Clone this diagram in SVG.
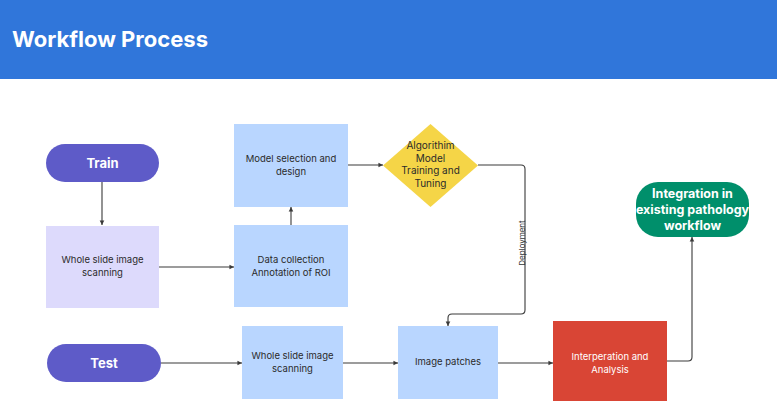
<svg xmlns="http://www.w3.org/2000/svg" width="777" height="405" viewBox="0 0 777 405">
<style>
text{font-family:Inter,"Liberation Sans",sans-serif;text-anchor:middle}
.lbl{font-size:9.5px;fill:#2b2b2b}
.pill{font-size:13px;font-weight:700;fill:#fff}
.con{fill:none;stroke:#3a3a3a;stroke-width:1.1}
</style>
<defs>
<marker id="ah" viewBox="0 0 6 6" refX="5" refY="3" markerWidth="5" markerHeight="5" orient="auto"><path d="M0,0.5 L5,3 L0,5.5 Z" fill="#3a3a3a"/></marker>
</defs>
<rect width="777" height="405" fill="#fff"/>
<g id="header">
<rect x="0" y="0" width="777" height="79" fill="#3076DA"/>
<text x="12" y="47" style="text-anchor:start;font-size:22px;font-weight:700;fill:#fff">Workflow Process</text>
</g>
<g id="connectors">
<path class="con" d="M102,182 V225" marker-end="url(#ah)"/>
<path class="con" d="M159,267 H234" marker-end="url(#ah)"/>
<path class="con" d="M291,225 V207" marker-end="url(#ah)"/>
<path class="con" d="M348,165 H383" marker-end="url(#ah)"/>
<path class="con" d="M478,165 H521 Q525,165 525,169 V310 Q525,314 521,314 H452 Q448,314 448,318 V326" marker-end="url(#ah)"/>
<path class="con" d="M161,363 H242" marker-end="url(#ah)"/>
<path class="con" d="M343,363 H398" marker-end="url(#ah)"/>
<path class="con" d="M498,363 H553" marker-end="url(#ah)"/>
<path class="con" d="M667,361 H688 Q692,361 692,357 V237" marker-end="url(#ah)"/>
<text x="0" y="0" transform="translate(523,243) rotate(-90)" style="font-size:8px;fill:#333" dominant-baseline="middle">Deployment</text>
</g>
<g id="train">
<rect x="46" y="144" width="113" height="38" rx="19" fill="#5E5BC8"/>
<text class="pill" x="102.5" y="168">Train</text>
</g>
<g id="wsi-train">
<rect x="46" y="226" width="113" height="82" fill="#DDDAFC"/>
<text class="lbl" x="102.5" y="263">Whole slide image</text>
<text class="lbl" x="102.5" y="276">scanning</text>
</g>
<g id="data-collection">
<rect x="234" y="225" width="114" height="82" fill="#B9D6FF"/>
<text class="lbl" x="291" y="263">Data collection</text>
<text class="lbl" x="291" y="276">Annotation of ROI</text>
</g>
<g id="model-selection">
<rect x="234" y="124" width="114" height="83" fill="#B9D6FF"/>
<text class="lbl" x="291" y="162">Model selection and</text>
<text class="lbl" x="291" y="175">design</text>
</g>
<g id="algorithm">
<polygon points="430.5,124 478,165.5 430.5,207 383,165.5" fill="#F5D547"/>
<text class="lbl" x="430.5" y="149" style="font-size:10px">Algorithim</text>
<text class="lbl" x="430.5" y="161.5" style="font-size:10px">Model</text>
<text class="lbl" x="430.5" y="174" style="font-size:10px">Training and</text>
<text class="lbl" x="430.5" y="186.5" style="font-size:10px">Tuning</text>
</g>
<g id="test">
<rect x="47" y="344" width="114" height="38" rx="19" fill="#5E5BC8"/>
<text class="pill" x="104" y="368">Test</text>
</g>
<g id="wsi-test">
<rect x="242" y="326" width="101" height="73" fill="#B9D6FF"/>
<text class="lbl" x="292.5" y="359">Whole slide image</text>
<text class="lbl" x="292.5" y="372">scanning</text>
</g>
<g id="image-patches">
<rect x="398" y="326" width="100" height="73" fill="#B9D6FF"/>
<text class="lbl" x="448" y="365">Image patches</text>
</g>
<g id="interpretation">
<rect x="553" y="321" width="114" height="80" fill="#D94535"/>
<text class="lbl" x="610" y="360" style="fill:#fff">Interperation and</text>
<text class="lbl" x="610" y="373" style="fill:#fff">Analysis</text>
</g>
<g id="integration">
<rect x="636" y="182" width="113" height="55" rx="22" fill="#008F6B"/>
<text class="pill" x="692.5" y="198" style="font-size:12.5px">Integration in</text>
<text class="pill" x="692.5" y="214" style="font-size:12.5px">existing pathology</text>
<text class="pill" x="692.5" y="230" style="font-size:12.5px">workflow</text>
</g>
</svg>
